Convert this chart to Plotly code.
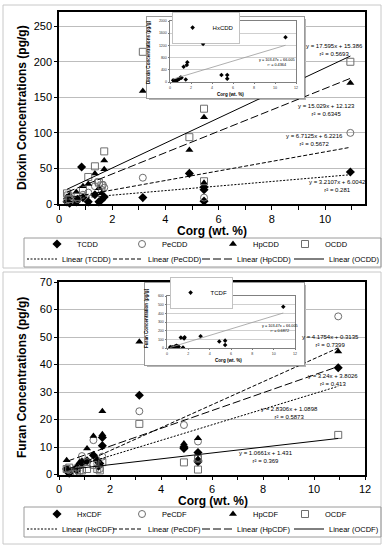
import plotly.graph_objects as go
import numpy as np

# ---------------- DATA ----------------
# Dioxins (top panel)
tcdd_x = [0.3, 0.35, 0.4, 0.65, 0.7, 0.85, 0.9, 1.1, 1.35, 1.5, 1.6, 1.7, 3.15, 4.9, 5.45, 5.45, 5.45, 10.95]
tcdd_y = [3, 8, 1, 3, 6, 52, 9, 3, 13, 3, 6, 10, 9, 43, 24, 20, 4, 45]
pecdd_x = [0.3, 0.35, 0.4, 0.7, 0.9, 1.1, 1.35, 1.45, 1.6, 1.65, 1.7, 3.15, 5.45, 10.95]
pecdd_y = [5, 9, 3, 7, 13, 16, 25, 31, 20, 27, 23, 37, 9, 100]
hpcdd_x = [0.3, 0.35, 0.4, 0.65, 0.7, 0.9, 1.1, 1.35, 1.5, 1.6, 1.7, 1.7, 3.15, 4.9, 5.45, 5.45, 10.95]
hpcdd_y = [10, 4, 13, 17, 8, 25, 28, 43, 22, 15, 61, 49, 159, 76, 122, 30, 170]
ocdd_x = [0.3, 0.35, 0.4, 0.7, 0.9, 1.1, 1.35, 1.5, 1.6, 1.7, 3.15, 4.9, 5.45, 5.45, 10.95]
ocdd_y = [15, 12, 7, 10, 20, 38, 53, 30, 26, 74, 214, 94, 134, 32, 200]

# Trendline coefficients (slope, intercept) and r^2 for dioxins
diox_names = ["TCDD", "PeCDD", "HpCDD", "OCDD"]
diox_slope = [3.2107, 6.7125, 15.029, 17.595]
diox_icpt = [6.0042, 6.2216, 12.123, 15.386]
diox_r2 = ["0.281", "0.5672", "0.6345", "0.5693"]

# HxCDD inset
hxcdd_x = [0.3, 0.4, 0.5, 0.6, 0.7, 0.8, 0.9, 1.0, 1.1, 1.3, 1.5, 1.6, 1.65, 3.15, 4.9, 5.45, 5.45, 11.0]
hxcdd_y = [60, 20, 40, 30, 70, 90, 110, 150, 140, 500, 80, 560, 650, 1250, 230, 230, 110, 1470]
hxcdd_fit = (103.47, 66.005)

# Furans (bottom panel)
hxcdf_x = [0.3, 0.35, 0.4, 0.7, 0.8, 0.9, 1.1, 1.35, 1.5, 1.55, 1.6, 1.7, 1.7, 3.15, 4.9, 4.9, 5.45, 5.45, 5.45, 10.95]
hxcdf_y = [2, 1, 0.5, 1.5, 3, 4, 5, 7, 5, 3, 4, 13.5, 10.5, 28.8, 10, 9.5, 8, 5.2, 4.6, 38.8]
pecdf_x = [0.3, 0.4, 0.7, 0.9, 1.1, 1.35, 1.5, 1.6, 1.7, 3.15, 4.9, 5.45, 5.45, 10.95]
pecdf_y = [2, 1.5, 2.5, 6.7, 4.5, 12.5, 4, 2, 6.5, 23, 18, 12, 6, 57.5]
hpcdf_x = [0.3, 0.35, 0.7, 0.8, 0.9, 1.1, 1.35, 1.5, 1.6, 1.7, 1.7, 3.15, 4.9, 5.45, 10.95]
hpcdf_y = [5.2, 2, 3, 4.5, 5, 9.5, 14, 5.5, 3.5, 23, 14.6, 48.3, 11.3, 13.2, 44.7]
ocdf_x = [0.3, 0.4, 0.7, 0.8, 0.9, 1.1, 1.35, 1.5, 1.6, 1.7, 3.15, 4.9, 5.45, 5.45, 10.95]
ocdf_y = [2, 2.5, 1, 1.5, 1.5, 2, 3.5, 2, 1.5, 4.5, 18.4, 4.4, 5.8, 1.8, 14.4]

fur_names = ["HxCDF", "PeCDF", "HpCDF", "OCDF"]
fur_slope = [2.8306, 4.1754, 3.24, 1.0661]
fur_icpt = [1.0898, 0.3135, 3.8026, 1.431]
fur_r2 = ["0.5873", "0.7399", "0.413", "0.369"]

# TCDF inset
tcdf_x = [0.3, 0.4, 0.5, 0.7, 0.8, 0.9, 1.0, 1.1, 1.3, 1.5, 1.6, 1.65, 3.15, 4.9, 5.45, 5.45, 10.9]
tcdf_y = [10, 5, 8, 15, 20, 25, 20, 15, 120, 5, 110, 125, 135, 75, 85, 35, 475]
tcdf_fit_drawn = (37.5, -5.0)   # line as drawn in the original inset
tcdf_label = ("103.47", "66.005", "0.6872")

# ---------------- HELPERS ----------------
W, H = 385, 550
FONT = "Liberation Sans, Arial, sans-serif"


def px(x):
    return x / W


def py(y):
    return 1 - y / H


fig = go.Figure()
legends = {}
_leg_count = [0]


def new_legend(xp, yp, size=7.5, boxed=False):
    _leg_count[0] += 1
    n = _leg_count[0]
    key = "legend" if n == 1 else "legend%d" % n
    cfg = dict(orientation="h", x=px(xp), xanchor="left", y=py(yp), yanchor="middle",
               itemwidth=30, font=dict(size=size, family=FONT, color="black"),
               bgcolor="rgba(0,0,0,0)", borderwidth=0)
    if boxed:
        cfg.update(bgcolor="white", bordercolor="#9a9a9a", borderwidth=0.6)
    legends[key] = cfg
    return key


marker_styles = [
    dict(symbol="diamond", size=7, color="black", line=dict(width=0)),
    dict(symbol="circle-open", size=7, color="#6e6e6e", line=dict(width=1)),
    dict(symbol="triangle-up", size=7, color="black", line=dict(width=0)),
    dict(symbol="square-open", size=7, color="#6e6e6e", line=dict(width=1)),
]
dash_styles = ["2px,1.5px", "4px,2px", "8px,3px", "solid"]
marker_leg_x = [37, 122, 213, 285]
line_leg_x = [22, 108, 197, 289]


def add_panel(xs, ys, names, slopes, icpts, xa, ya, row1_y, row2_y):
    for x, y, n, ms, lx in zip(xs, ys, names, marker_styles, marker_leg_x):
        fig.add_trace(go.Scatter(x=x, y=y, mode="markers", name=n, marker=ms,
                                 xaxis=xa, yaxis=ya, legend=new_legend(lx, row1_y),
                                 cliponaxis=False, hoverinfo="skip"))
    for x, n, s, b, d, lx in zip(xs, names, slopes, icpts, dash_styles, line_leg_x):
        xl = np.array([min(x), max(x)])
        fig.add_trace(go.Scatter(x=xl, y=s * xl + b, mode="lines", name="Linear (%s)" % n,
                                 line=dict(color="black", width=1, dash=d),
                                 xaxis=xa, yaxis=ya, legend=new_legend(lx, row2_y),
                                 hoverinfo="skip"))


def add_box(xa, ya):
    fig.add_trace(go.Scatter(x=[None], y=[None], xaxis=xa, yaxis=ya, showlegend=False,
                             hoverinfo="skip"))


def add_inset(x, y, name, fit, xa, ya, lx, ly):
    fig.add_trace(go.Scatter(x=x, y=y, mode="markers", name=name,
                             marker=dict(symbol="diamond", size=3.5, color="black"),
                             xaxis=xa, yaxis=ya, legend=new_legend(lx, ly, 6, True),
                             hoverinfo="skip"))
    xl = np.array([min(x), max(x)])
    fig.add_trace(go.Scatter(x=xl, y=fit[0] * xl + fit[1], mode="lines", showlegend=False,
                             line=dict(color="#9a9a9a", width=0.8),
                             xaxis=xa, yaxis=ya, hoverinfo="skip"))


# top panel
add_panel([tcdd_x, pecdd_x, hpcdd_x, ocdd_x], [tcdd_y, pecdd_y, hpcdd_y, ocdd_y],
          diox_names, diox_slope, diox_icpt, "x", "y", 244, 259)
add_box("x2", "y2")
add_inset(hxcdd_x, hxcdd_y, "HxCDD", hxcdd_fit, "x3", "y3", 172, 28)
# bottom panel
add_panel([hxcdf_x, pecdf_x, hpcdf_x, ocdf_x], [hxcdf_y, pecdf_y, hpcdf_y, ocdf_y],
          fur_names, fur_slope, fur_icpt, "x4", "y4", 514, 529)
add_box("x5", "y5")
add_inset(tcdf_x, tcdf_y, "TCDF", tcdf_fit_drawn, "x6", "y6", 170, 293)

# ---------------- AXES ----------------
main_x = dict(dtick=2, tick0=0, ticks="outside", ticklen=4, tickcolor="black",
              minor=dict(dtick=1, ticks="outside", ticklen=4, tickcolor="black"),
              showline=True, linewidth=1.5, linecolor="black", mirror=True,
              showgrid=False, zeroline=False, tickfont=dict(size=11, color="black"))
main_y = dict(ticks="outside", ticklen=3, tickcolor="black", showline=True, linewidth=1.5,
              linecolor="black", mirror=True, showgrid=True, gridcolor="#bdbdbd", gridwidth=1,
              zeroline=False, tickfont=dict(size=11, color="black"))
box_ax = dict(range=[0, 1], showline=True, linecolor="#9a9a9a", linewidth=1, mirror=True,
              showgrid=False, zeroline=False, showticklabels=False, ticks="")
ins_x = dict(range=[0, 12], dtick=2, ticks="outside", ticklen=1.5, tickcolor="#777",
             showline=True, linecolor="#808080", linewidth=0.8, mirror=True, showgrid=False,
             zeroline=False, tickfont=dict(size=3.6, color="#333"))
ins_y = dict(ticks="outside", ticklen=1.5, tickcolor="#777", showline=True, linecolor="#808080",
             linewidth=0.8, mirror=True, showgrid=True, gridcolor="#cfcfcf", gridwidth=0.6,
             zeroline=False, tickfont=dict(size=3.6, color="#333"))

fig.update_layout(
    xaxis=dict(main_x, domain=[px(59), px(365)], range=[0, 11.5], anchor="y"),
    yaxis=dict(main_y, domain=[py(204), py(12)], range=[0, 270], dtick=50, anchor="x"),
    xaxis2=dict(box_ax, domain=[px(147), px(304)], anchor="y2"),
    yaxis2=dict(box_ax, domain=[py(98), py(17)], anchor="x2"),
    xaxis3=dict(ins_x, domain=[px(170), px(296)], anchor="y3"),
    yaxis3=dict(ins_y, domain=[py(82), py(21)], range=[0, 2000], dtick=400, anchor="x3"),
    xaxis4=dict(main_x, domain=[px(59), px(365)], range=[0, 12], anchor="y4"),
    yaxis4=dict(main_y, domain=[py(474.5), py(282)], range=[0, 70], dtick=10, anchor="x4"),
    xaxis5=dict(box_ax, domain=[px(145), px(304)], anchor="y5"),
    yaxis5=dict(box_ax, domain=[py(365), py(283)], anchor="x5"),
    xaxis6=dict(ins_x, domain=[px(167), px(295)], anchor="y6"),
    yaxis6=dict(ins_y, domain=[py(348), py(296)], range=[0, 600], dtick=100, anchor="x6"),
)
fig.update_layout(**legends)

# ---------------- TEXT ----------------
ann = []


def text(xp, yp, s, size, bold=False, angle=0, color="black"):
    if bold:
        s = "<b>%s</b>" % s
    ann.append(dict(x=px(xp), y=py(yp), xref="paper", yref="paper", text=s, showarrow=False,
                    textangle=angle, xanchor="center", yanchor="middle",
                    font=dict(size=size, family=FONT, color=color)))


# main axis titles
text(22, 108, "Dioxin Concentrations (pg/g)", 12, True, -90)
text(212, 231, "Corg (wt. %)", 12, True)
text(22, 378, "Furan Concentrations (pg/g)", 12, True, -90)
text(213, 501, "Corg (wt. %)", 12, True)
# inset titles
text(149, 52, "Dioxin Concentrations (pg/g)", 4.6, True, -90)
text(230, 94, "Corg (wt. %)", 4.6, True)
text(146, 318, "Furan Concentration (pg/g)", 4.6, True, -90)
text(228, 360, "Corg (wt. %)", 4.6, True)

# trendline equations
eq_pos_top = [(337, 186), (314, 140), (326, 110), (334, 50)]
for (xp, yp), s, b, r in zip(eq_pos_top, diox_slope, diox_icpt, diox_r2):
    text(xp, yp, "y = %sx + %s<br>r² = %s" % (s, b, r), 6)
eq_pos_bot = [(289, 413), (330, 341), (333, 380), (266, 457)]
for (xp, yp), s, b, r in zip(eq_pos_bot, fur_slope, fur_icpt, fur_r2):
    text(xp, yp, "y = %sx + %s<br>r² = %s" % (s, b, r), 6)
text(277, 63, "y = %sx + %s<br>r² = 0.4364" % hxcdd_fit, 3.8)
text(280, 328, "y = %sx + %s<br>r² = %s" % tcdf_label, 3.8)

# ---------------- FRAMES ----------------
shapes = []
for (x0, y0, x1, y1) in [(3, 5, 381, 268), (3, 272, 381, 544)]:
    shapes.append(dict(type="rect", xref="paper", yref="paper", x0=px(x0), x1=px(x1),
                       y0=py(y1), y1=py(y0), line=dict(color="#c8c8c8", width=1), layer="below"))
for (x0, y0, x1, y1) in [(24, 238, 381, 267), (24, 507, 381, 537)]:
    shapes.append(dict(type="rect", xref="paper", yref="paper", x0=px(x0), x1=px(x1),
                       y0=py(y1), y1=py(y0), line=dict(color="#9a9a9a", width=1)))
# inset drop shadows
for (x0, y0, x1, y1) in [(147, 17, 304, 98), (145, 283, 304, 365)]:
    shapes.append(dict(type="rect", xref="paper", yref="paper", x0=px(x0 + 2), x1=px(x1 + 2),
                       y0=py(y1 + 2), y1=py(y0 + 2), line=dict(width=0),
                       fillcolor="#b5b5b5", layer="below"))

fig.update_layout(
    width=W, height=H, margin=dict(l=0, r=0, t=0, b=0, autoexpand=False),
    paper_bgcolor="white", plot_bgcolor="white",
    font=dict(family=FONT, color="black"),
    annotations=ann, shapes=shapes, showlegend=True,
)

fig.write_html("out.html", config={"displayModeBar": False},
               post_script="document.body.style.margin='0px';")
